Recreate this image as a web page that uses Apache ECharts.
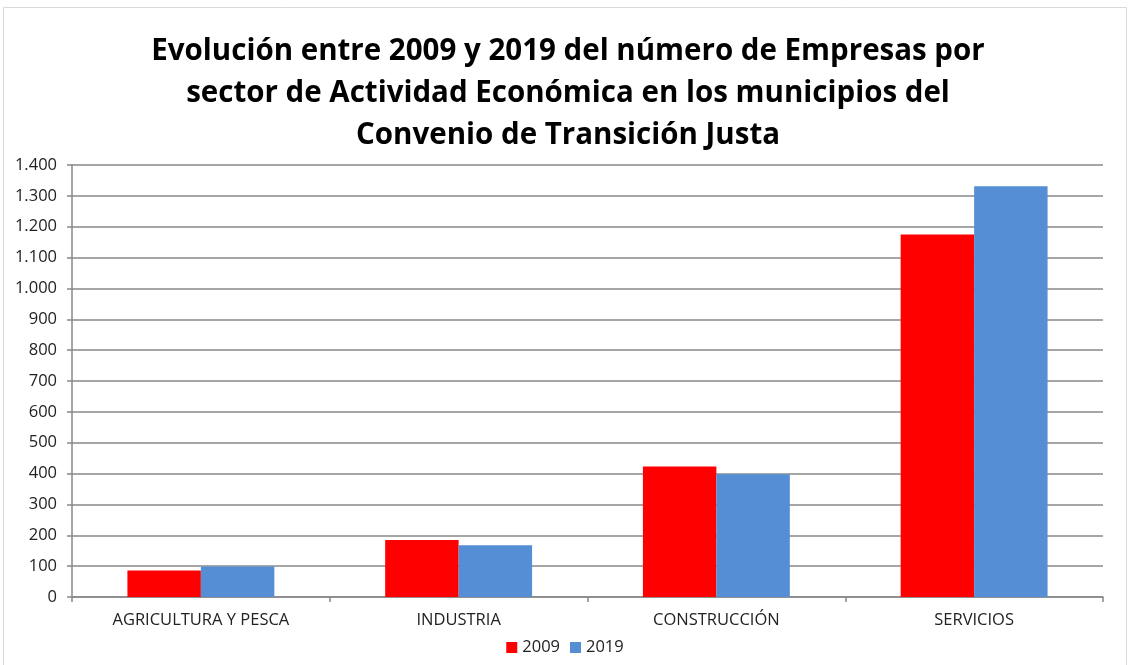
<!DOCTYPE html>
<html>
<head>
<meta charset="utf-8">
<script src="https://cdn.jsdelivr.net/npm/echarts@6/dist/echarts.min.js"></script>
<style>
    html, body { margin: 0; padding: 0; background: #fff; }
    #chart { width: 1130px; height: 665px; }
</style>
</head>
<body>
<div id="chart"></div>
<script>
const categories = ['AGRICULTURA Y PESCA', 'INDUSTRIA', 'CONSTRUCCIÓN', 'SERVICIOS'];
const values2009 = [86, 185, 423, 1175];
const values2019 = [99, 168, 398, 1331];
const seriesNames = ['2009', '2019'];

const fmt = v => v.toLocaleString('es-ES', {useGrouping: 'always'});

const chart = echarts.init(document.getElementById('chart'));
chart.setOption({
    animation: false,
    textStyle: { fontFamily: 'Open Sans' },
    title: {
        text: 'Evolución entre 2009 y 2019 del número de Empresas por\nsector de Actividad Económica en los municipios del\nConvenio de Transición Justa',
        left: 563,
        textAlign: 'center',
        top: 26,
        textStyle: {
            fontSize: 29.5,
            fontWeight: 'bold',
            color: '#000',
            lineHeight: 42,
            fontFamily: 'Open Sans'
        }
    },
    graphic: [{
        type: 'rect',
        shape: { x: 3.5, y: 7.5, width: 1123, height: 660 },
        style: { fill: 'none', stroke: '#d9d9d9', lineWidth: 1 },
        silent: true
    }],
    legend: {
        bottom: 4,
        left: 'center',
        itemWidth: 11,
        itemHeight: 11,
        itemGap: 10,
        icon: 'rect',
        textStyle: { fontSize: 16.5, color: '#222' },
        data: seriesNames
    },
    grid: { left: 72, right: 27, top: 165, bottom: 68 },
    xAxis: {
        type: 'category',
        data: categories,
        axisLine: { lineStyle: { color: '#888', width: 1.5 } },
        axisTick: { show: true, length: 5, lineStyle: { color: '#888', width: 1.5 } },
        axisLabel: { fontSize: 16.5, color: '#222', margin: 15 }
    },
    yAxis: {
        type: 'value',
        min: 0,
        max: 1400,
        interval: 100,
        axisLine: { show: true, lineStyle: { color: '#888', width: 1.5 } },
        axisTick: { show: true, length: 5, lineStyle: { color: '#888', width: 1.5 } },
        splitLine: { lineStyle: { color: '#888', width: 1.5 } },
        axisLabel: { fontSize: 16.5, color: '#222', margin: 15, formatter: fmt }
    },
    series: [
        {
            name: seriesNames[0],
            type: 'bar',
            data: values2009,
            barGap: '0%',
            barCategoryGap: '43%',
            itemStyle: { color: '#ff0000' }
        },
        {
            name: seriesNames[1],
            type: 'bar',
            data: values2019,
            barGap: '0%',
            barCategoryGap: '43%',
            itemStyle: { color: '#558ed5' }
        }
    ]
});
</script>
</body>
</html>
